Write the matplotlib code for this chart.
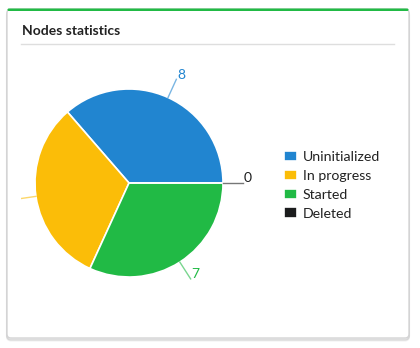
import numpy as np
import matplotlib
matplotlib.use("Agg")
import matplotlib.pyplot as plt
from matplotlib.patches import FancyBboxPatch, Rectangle

plt.rcParams['font.family'] = ['Lato', 'DejaVu Sans']

# node counts per state
states = ["Uninitialized", "In progress", "Started", "Deleted"]
counts = [8, 7, 7, 0]
colors = ["#2185d0", "#fbbd08", "#21ba45", "#1b1c1d"]

W, H = 420, 348
fig = plt.figure(figsize=(W / 100, H / 100), dpi=100)
ax = fig.add_axes([0, 0, 1, 1])

# card background with soft shadow
for off, a in [(2.5, 0.06), (1.5, 0.10)]:
    ax.add_patch(FancyBboxPatch((7, H - 338 - off), 402, 329, boxstyle="round,pad=0,rounding_size=4",
                                fc="none", ec=(0, 0, 0, a), lw=1.5))
ax.add_patch(FancyBboxPatch((7, H - 338), 402, 329, boxstyle="round,pad=0,rounding_size=4",
                            fc="white", ec="#d4d4d5", lw=1))
ax.add_patch(FancyBboxPatch((7.5, H - 11), 401, 2.5, boxstyle="round,pad=0,rounding_size=1.2",
                            fc="#21ba45", ec="none"))

ax.text(22, H - 31, "Nodes statistics", fontsize=10, fontweight="bold", color="#222222",
        va="center", ha="left")
ax.plot([21, 394], [H - 43.5, H - 43.5], color="#dedede", lw=1)

cx, cy, r = 129, H - 183, 94
wedges, _ = ax.pie(counts, colors=colors, startangle=0, counterclock=True,
                   center=(cx, cy), radius=r, frame=True,
                   wedgeprops=dict(edgecolor="white", linewidth=1.2))
ax.set_xlim(0, W)
ax.set_ylim(0, H)
ax.axis("off")

# data labels with connectors; anything left of the plot area is cut off
left_edge = 21
clip = Rectangle((left_edge, 0), W, H, transform=ax.transData)
for w, n, c in zip(wedges, counts, colors):
    mid = np.deg2rad((w.theta1 + w.theta2) / 2)
    ux, uy = np.cos(mid), np.sin(mid)
    x0, y0 = cx + r * ux, cy + r * uy
    x1, y1 = cx + (r + 20) * ux, cy + (r + 20) * uy
    ln, = ax.plot([x0, x1], [y0, y1], color=c, lw=1, alpha=0.6)
    ln.set_clip_path(clip)
    ha = "left" if ux >= -0.05 else "right"
    tx = x1 + (1 if ha == "left" else -1)
    if tx < left_edge + 8:
        continue
    ax.text(tx, y1 + 4.5, str(n), color=c, fontsize=10, ha=ha, va="center")

leg = ax.legend(wedges, states, loc="upper left", bbox_to_anchor=(278 / W, 1 - 145 / H),
                frameon=False, fontsize=10.2, handlelength=0.95, handleheight=0.75,
                handletextpad=0.4, labelspacing=0.48, borderaxespad=0)
for txt in leg.get_texts():
    txt.set_color("#222222")

fig.savefig("out.png", dpi=100)
